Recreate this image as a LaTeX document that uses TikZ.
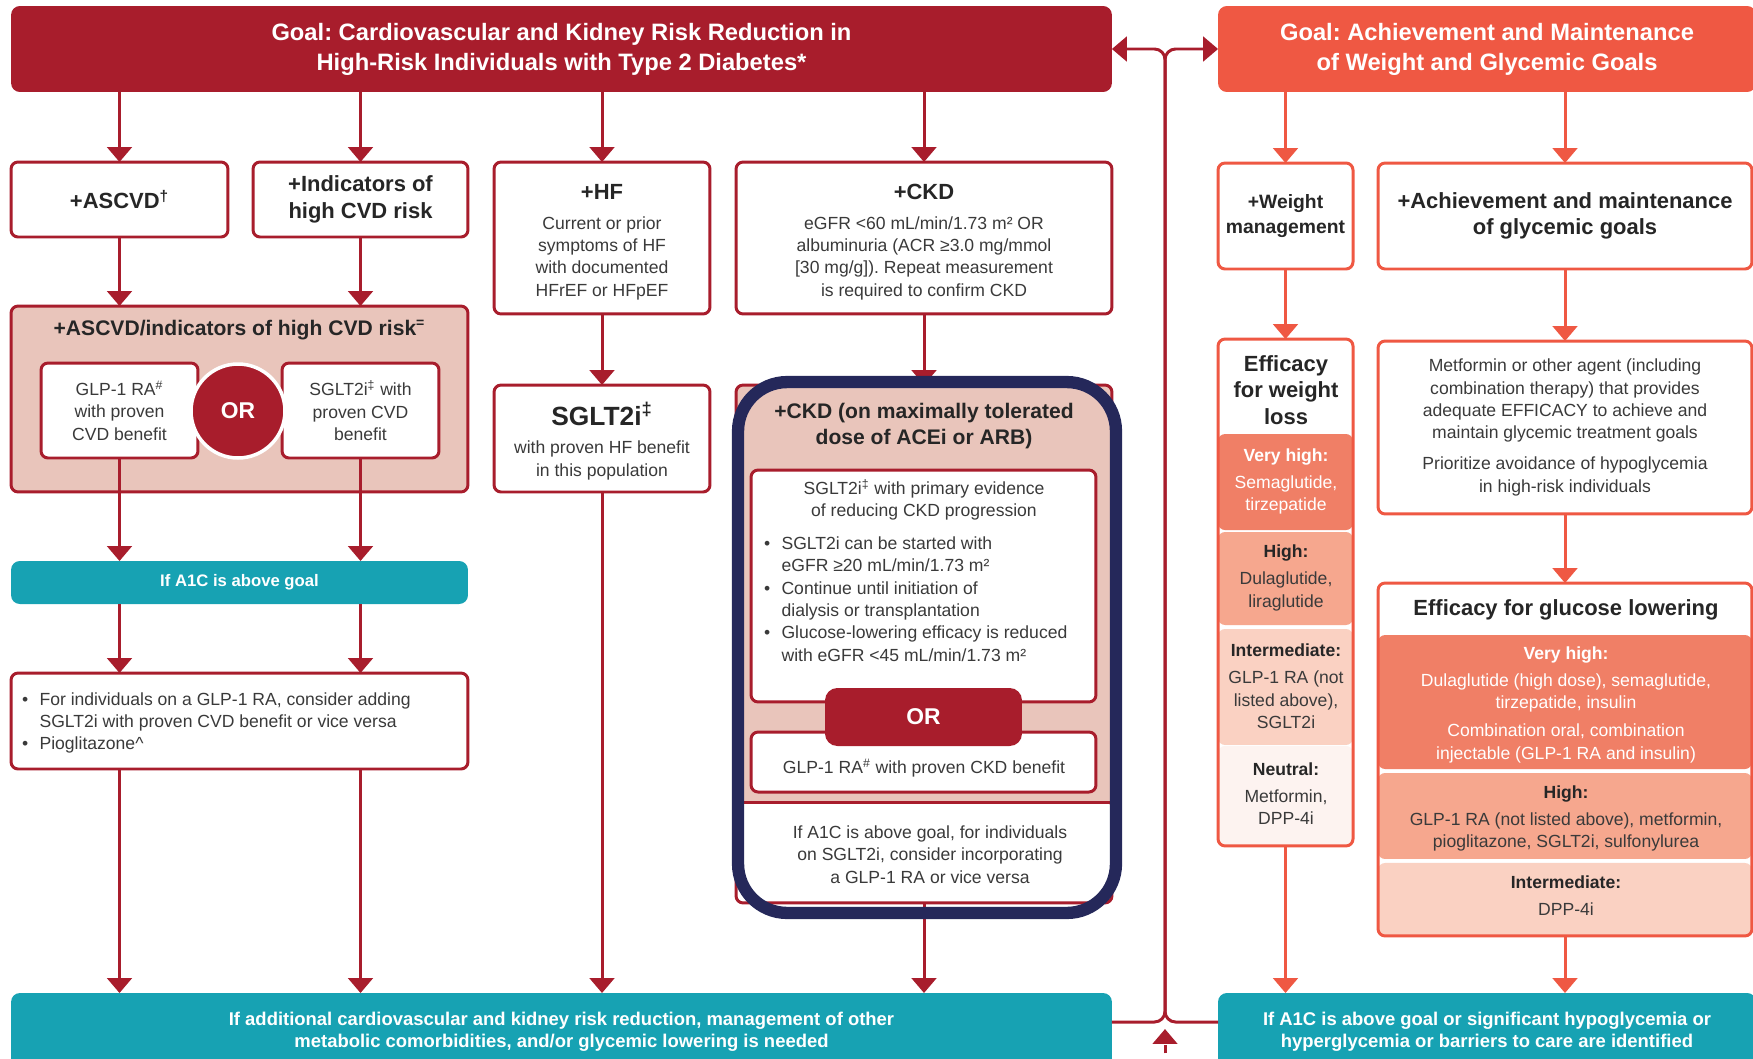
\documentclass[tikz,border=0pt]{standalone}
\usepackage{fontspec}
\setmainfont{Liberation Sans}
\usepackage{xcolor}
\usetikzlibrary{positioning,arrows.meta}
\frenchspacing

\definecolor{cvred}{HTML}{A81D2C}
\definecolor{goalor}{HTML}{EF5843}
\definecolor{tealbar}{HTML}{17A2B3}
\definecolor{pinkfill}{HTML}{E9C5BB}
\definecolor{navyhl}{HTML}{25285A}
\definecolor{vhfill}{HTML}{F07F66}
\definecolor{hifill}{HTML}{F6A78E}
\definecolor{imfill}{HTML}{FAD1C2}
\definecolor{nefill}{HTML}{FDF3F0}
\definecolor{txt}{HTML}{3A3A3A}
\definecolor{hdtxt}{HTML}{262626}

\newcommand{\blt}{\makebox[10pt][l]{\textbullet}}
\newcommand{\bltsp}{\hspace*{10pt}}

\begin{document}
\begin{tikzpicture}[
  x=0.02cm, y=-0.02cm,
  every node/.style={inner sep=0pt, outer sep=0pt},
  redbox/.style={draw=cvred, line width=1.7pt, fill=white, rounded corners=4pt},
  orbox/.style={draw=goalor, line width=1.7pt, fill=white, rounded corners=4pt},
  goalbox/.style={rounded corners=5pt, text=white, align=center, font=\bfseries\fontsize{13.5}{17}\selectfont},
  tealbox/.style={fill=tealbar, rounded corners=5pt, text=white, align=center, font=\bfseries\fontsize{10.5}{12.7}\selectfont},
  head/.style={text=hdtxt, align=center, font=\bfseries\fontsize{12.5}{15}\selectfont},
  body/.style={text=txt, align=center, font=\fontsize{10}{12.7}\selectfont},
  tier/.style={text=hdtxt, align=center, font=\bfseries\fontsize{10}{12.7}\selectfont},
  redarr/.style={draw=cvred, line width=1.7pt, -{Triangle[width=14pt,length=8.5pt]}},
  orarr/.style={draw=goalor, line width=1.7pt, -{Triangle[width=14pt,length=8.5pt]}},
]
\useasboundingbox (0,0) rectangle (1753,1058);

% goals
\node[goalbox, fill=cvred, minimum width=22.02cm, minimum height=1.72cm] (hdrL) at (561.5,49)
  {Goal: Cardiovascular and Kidney Risk Reduction in\\High-Risk Individuals with Type 2 Diabetes*};
\node[goalbox, fill=goalor, minimum width=10.76cm, minimum height=1.72cm] (hdrR) at (1487,49)
  {Goal: Achievement and Maintenance\\of Weight and Glycemic Goals};

% first row, left
\node[redbox, head, minimum width=4.34cm, minimum height=1.5cm] (ascvd) at (119.5,199.5) {+ASCVD\textsuperscript{†}};
\node[redbox, head, minimum width=4.30cm, minimum height=1.5cm] (indic) at (360.5,199.5) {+Indicators of\\high CVD risk};
\node[redbox, minimum width=4.32cm, minimum height=3.04cm] (hf) at (602,238) {};
\node[head] (hft) at (602,192) {+HF};
\node[body] (hfb) at (602,258) {Current or prior\\symptoms of HF\\with documented\\HFrEF or HFpEF};
\node[redbox, minimum width=7.52cm, minimum height=3.04cm] (ckd) at (924,238) {};
\node[head] (ckdt) at (924,192) {+CKD};
\node[body] (ckdb) at (924,258) {eGFR <60 mL/min/1.73 m² OR\\albuminuria (ACR ≥3.0 mg/mmol\\{[}30 mg/g{]}). Repeat measurement\\is required to confirm CKD};

% first row, right
\node[orbox, head, font=\bfseries\fontsize{11}{14}\selectfont, minimum width=2.70cm, minimum height=2.12cm] (wm) at (1285.5,216) {+Weight\\management};
\node[orbox, head, minimum width=7.48cm, minimum height=2.12cm] (achv) at (1565,216) {+Achievement and maintenance\\of glycemic goals};

% ASCVD group
\node[redbox, fill=pinkfill, minimum width=9.14cm, minimum height=3.72cm] (cvdgrp) at (239.5,399) {};
\node[head, font=\bfseries\fontsize{12}{15}\selectfont] (cvdt) at (239.5,330) {+ASCVD/indicators of high CVD risk\textsuperscript{=}};
\node[redbox, body, minimum width=3.14cm, minimum height=1.9cm] (glp) at (119.5,410.5) {GLP-1 RA\textsuperscript{\#}\\with proven\\CVD benefit};
\node[redbox, body, minimum width=3.14cm, minimum height=1.9cm] (sglt) at (360.5,410.5) {SGLT2i\textsuperscript{‡} with\\proven CVD\\benefit};
\node[circle, fill=cvred, draw=white, line width=2pt, minimum size=1.88cm, text=white, font=\bfseries\fontsize{13}{15}\selectfont] (orc) at (238,411) {OR};

% HF treatment
\node[redbox, minimum width=4.32cm, minimum height=2.14cm] (sglthf) at (602,438.5) {};
\node[head, font=\bfseries\fontsize{15}{17}\selectfont] (sgltt) at (602,414) {SGLT2i\textsuperscript{‡}};
\node[body] (sgltb) at (602,460.5) {with proven HF benefit\\in this population};

% CKD group
\node[redbox, fill=pinkfill, minimum width=7.52cm, minimum height=10.36cm,
  path picture={
    \fill[white] (path picture bounding box.south west) rectangle ([yshift=2cm]path picture bounding box.south east);
    \draw[cvred, line width=1.7pt] ([yshift=2cm]path picture bounding box.south west) -- ([yshift=2cm]path picture bounding box.south east);
  }] (ckdgrp) at (924,644) {};
\node[head, font=\bfseries\fontsize{12}{14.7}\selectfont] (ckdgt) at (924,426) {+CKD (on maximally tolerated\\dose of ACEi or ARB)};
\node[redbox, minimum width=6.9cm, minimum height=4.64cm] (ckdin1) at (923.5,586) {};
\node[body] (ckdi1t) at (924,500) {SGLT2i\textsuperscript{‡} with primary evidence\\of reducing CKD progression};
\node[body, align=left, anchor=west] (ckdi1b) at (764,599)
  {\blt SGLT2i can be started with\\\bltsp eGFR ≥20 mL/min/1.73 m²\\\blt Continue until initiation of\\\bltsp dialysis or transplantation\\\blt Glucose-lowering efficacy is reduced\\\bltsp with eGFR <45 mL/min/1.73 m²};
\node[redbox, minimum width=6.9cm, minimum height=1.2cm] (ckdin2) at (923.5,762) {};
\node[body] (ckdi2t) at (924,768) {GLP-1 RA\textsuperscript{\#} with proven CKD benefit};
\node[fill=cvred, rounded corners=7pt, minimum width=3.94cm, minimum height=1.16cm, text=white, font=\bfseries\fontsize{13}{15}\selectfont] (orbx) at (923.5,717) {OR};
\node[body] (ckdlt) at (930,854.5) {If A1C is above goal, for individuals\\on SGLT2i, consider incorporating\\a GLP-1 RA or vice versa};

% A1C step, left
\node[tealbox, font=\bfseries\fontsize{9.5}{12}\selectfont, minimum width=9.14cm, minimum height=0.86cm] (a1c) at (239.5,582.5) {If A1C is above goal};
\node[redbox, minimum width=9.14cm, minimum height=1.92cm] (pio) at (239.5,721) {};
\node[body, align=left, anchor=west] (piot) at (22,723)
  {\blt For individuals on a GLP-1 RA, consider adding\\\bltsp SGLT2i with proven CVD benefit or vice versa\\\blt Pioglitazone\textasciicircum};

% bottom bars
\node[tealbox, minimum width=22.02cm, minimum height=1.54cm] (botL) at (561.5,1031.5)
  {If additional cardiovascular and kidney risk reduction, management of other\\metabolic comorbidities, and/or glycemic lowering is needed};
\node[tealbox, minimum width=10.76cm, minimum height=1.54cm] (botR) at (1487,1031.5)
  {If A1C is above goal or significant hypoglycemia or\\hyperglycemia or barriers to care are identified};

% weight column
\node[orbox, minimum width=2.70cm, minimum height=10.14cm,
  path picture={
    \fill[vhfill] ([yshift=-1.9cm]path picture bounding box.north west) rectangle ([yshift=-3.82cm]path picture bounding box.north east);
    \fill[hifill] ([yshift=-3.86cm]path picture bounding box.north west) rectangle ([yshift=-5.72cm]path picture bounding box.north east);
    \fill[imfill] ([yshift=-5.8cm]path picture bounding box.north west) rectangle ([yshift=-8.12cm]path picture bounding box.north east);
    \fill[nefill] ([yshift=-8.14cm]path picture bounding box.north west) rectangle (path picture bounding box.south east);
  }] (effw) at (1285.5,592.5) {};
\node[head, font=\bfseries\fontsize{12.5}{15.2}\selectfont] (effwt) at (1286,390) {Efficacy\\for weight\\loss};
\node[tier, text=white] (effvh1) at (1286,457) {Very high:};
\node[body, text=white] (effvh2) at (1286,495) {Semaglutide,\\tirzepatide};
\node[tier] (effhi1) at (1286,553) {High:};
\node[body] (effhi2) at (1286,591.5) {Dulaglutide,\\liraglutide};
\node[tier] (effim1) at (1286,650) {Intermediate:};
\node[body] (effim2) at (1286,700) {GLP-1 RA (not\\listed above),\\SGLT2i};
\node[tier] (effne1) at (1286,769) {Neutral:};
\node[body] (effne2) at (1286,807) {Metformin,\\DPP-4i};

% glycemic column
\node[orbox, body, minimum width=7.48cm, minimum height=3.46cm] (metf) at (1565,427.5)
  {Metformin or other agent (including\\combination therapy) that provides\\adequate EFFICACY to achieve and\\maintain glycemic treatment goals\\[5pt]Prioritize avoidance of hypoglycemia\\in high-risk individuals};
\node[orbox, minimum width=7.48cm, minimum height=7.06cm,
  path picture={
    \fill[vhfill] ([yshift=-1.04cm]path picture bounding box.north west) rectangle ([yshift=-3.72cm]path picture bounding box.north east);
    \fill[hifill] ([yshift=-3.8cm]path picture bounding box.north west) rectangle ([yshift=-5.52cm]path picture bounding box.north east);
    \fill[imfill] ([yshift=-5.6cm]path picture bounding box.north west) rectangle (path picture bounding box.south east);
  }] (gluc) at (1565,759.5) {};
\node[head, font=\bfseries\fontsize{12.5}{15}\selectfont] (glut) at (1566,610) {Efficacy for glucose lowering};
\node[tier, text=white] (gluvh1) at (1566,655) {Very high:};
\node[body, text=white] (gluvh2) at (1566,693) {Dulaglutide (high dose), semaglutide,\\tirzepatide, insulin};
\node[body, text=white] (gluvh3) at (1566,743.5) {Combination oral, combination\\injectable (GLP-1 RA and insulin)};
\node[tier] (gluhi1) at (1566,794) {High:};
\node[body] (gluhi2) at (1566,832) {GLP-1 RA (not listed above), metformin,\\pioglitazone, SGLT2i, sulfonylurea};
\node[tier] (gluim1) at (1566,882) {Intermediate:};
\node[body] (gluim2) at (1566,909) {DPP-4i};

% arrows, left goal
\draw[redarr] (ascvd.north |- hdrL.south) -- (ascvd.north);
\draw[redarr] (indic.north |- hdrL.south) -- (indic.north);
\draw[redarr] (hf.north |- hdrL.south) -- (hf.north);
\draw[redarr] (ckd.north |- hdrL.south) -- (ckd.north);
\draw[redarr] (ascvd.south) -- (ascvd.south |- cvdgrp.north);
\draw[redarr] (indic.south) -- (indic.south |- cvdgrp.north);
\draw[redarr] (hf.south) -- (sglthf.north);
\draw[redarr] (ckd.south) -- (ckdgrp.north);
\draw[redarr] (glp.south) -- (glp.south |- a1c.north);
\draw[redarr] (sglt.south) -- (sglt.south |- a1c.north);
\draw[redarr] (glp.south |- a1c.south) -- (glp.south |- pio.north);
\draw[redarr] (sglt.south |- a1c.south) -- (sglt.south |- pio.north);
\draw[redarr] (glp.south |- pio.south) -- (glp.south |- botL.north);
\draw[redarr] (sglt.south |- pio.south) -- (sglt.south |- botL.north);
\draw[redarr] (sglthf.south) -- (sglthf.south |- botL.north);
\draw[redarr] (ckdgrp.south) -- (ckdgrp.south |- botL.north);

% arrows, right goal
\draw[orarr] (wm.north |- hdrR.south) -- (wm.north);
\draw[orarr] (achv.north |- hdrR.south) -- (achv.north);
\draw[orarr] (wm.south) -- (effw.north);
\draw[orarr] (achv.south) -- (metf.north);
\draw[orarr] (metf.south) -- (gluc.north);
\draw[orarr] (effw.south) -- (effw.south |- botR.north);
\draw[orarr] (gluc.south) -- (gluc.south |- botR.north);

% CKD highlight
\node[draw=navyhl, line width=7pt, rounded corners=28pt, minimum width=7.56cm, minimum height=10.62cm] (ckdhl) at (927,647.5) {};

% loop between the two goals
\coordinate (spine) at (1165,1022);
\coordinate (loopin) at (1165,1085);
\draw[redarr, rounded corners=6pt] (botL.east |- spine) -- (spine) -- (spine |- hdrR.west) -- (hdrR.west);
\draw[redarr, rounded corners=6pt] (botR.west |- spine) -- (spine) -- (spine |- hdrL.east) -- (hdrL.east);
\draw[redarr, dash pattern=on 5pt off 4pt] (loopin) -- ([yshift=-4pt]spine);
\end{tikzpicture}
\end{document}
